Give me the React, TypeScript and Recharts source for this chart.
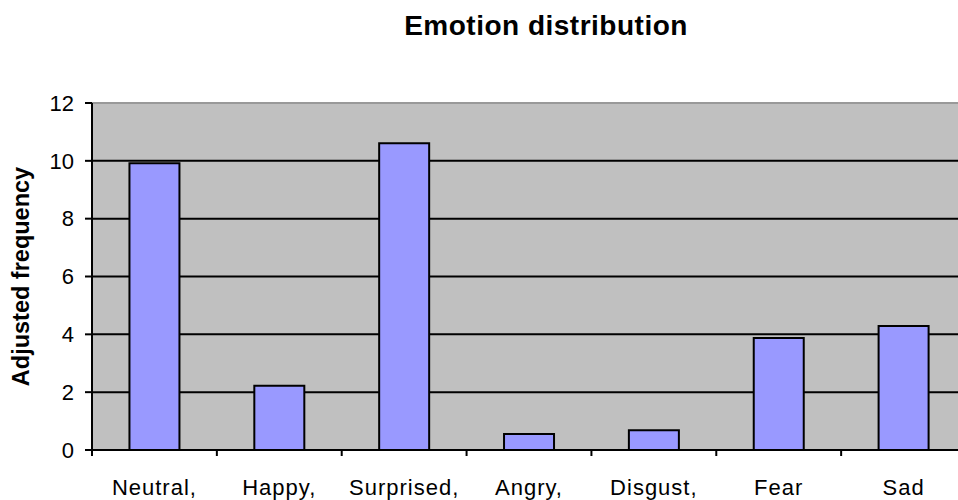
import { Bar, BarChart, CartesianGrid, ReferenceLine, XAxis, YAxis } from "recharts";

const emotions = ["Neutral,", "Happy,", "Surprised,", "Angry,", "Disgust,", "Fear", "Sad"];
const frequency = [9.92, 2.22, 10.61, 0.55, 0.68, 3.87, 4.29];
const yTicks = [0, 2, 4, 6, 8, 10, 12];

const data = emotions.map((name, i) => ({ name, value: frequency[i] }));

const font = '"Liberation Sans", Arial, sans-serif';

function EmotionTick(props: any) {
  const { x, y, payload, index, visibleTicksCount } = props;
  const half = payload?.offset ?? 0;
  const axisY = y - 29;
  return (
    <g>
      <line x1={x - half} y1={axisY} x2={x - half} y2={axisY + 6} stroke="#000" strokeWidth={2} />
      {index === visibleTicksCount - 1 && (
        <line x1={x + half} y1={axisY} x2={x + half} y2={axisY + 6} stroke="#000" strokeWidth={2} />
      )}
      <text x={x} y={y} dy="0.71em" textAnchor="middle" fontFamily={font} fontSize={22} letterSpacing={1} fill="#000">
        {payload.value}
      </text>
    </g>
  );
}

export default function App() {
  return (
    <div style={{ position: "absolute", left: 0, top: 0, width: 958, height: 500, overflow: "hidden", background: "#fff" }}>
      <div
        style={{
          position: "absolute",
          left: 546,
          top: 12,
          transform: "translateX(-50%)",
          fontFamily: font,
          fontWeight: "bold",
          fontSize: 28,
          lineHeight: 1,
          letterSpacing: 0.5,
          whiteSpace: "nowrap",
        }}
      >
        Emotion distribution
      </div>
      <BarChart
        width={980}
        height={500}
        data={data}
        margin={{ top: 103, right: 14, left: 0, bottom: 0 }}
        barCategoryGap="30%"
      >
        <CartesianGrid vertical={false} fill="#c0c0c0" stroke="#000" strokeWidth={2} />
        <ReferenceLine y={12} stroke="#999" strokeWidth={2} />
        <XAxis
          dataKey="name"
          height={50}
          axisLine={{ stroke: "#000", strokeWidth: 2 }}
          tickLine={false}
          tickSize={0}
          tickMargin={29}
          tick={<EmotionTick />}
          interval={0}
        />
        <YAxis
          width={92}
          domain={[0, 12]}
          ticks={yTicks}
          interval={0}
          axisLine={{ stroke: "#000", strokeWidth: 2 }}
          tickLine={{ stroke: "#000", strokeWidth: 2 }}
          tickSize={7}
          tickMargin={11}
          tick={{ fill: "#000", fontSize: 22, fontFamily: font }}
          label={{
            value: "Adjusted frequency",
            angle: -90,
            position: "insideLeft",
            offset: 21,
            style: { fontFamily: font, fontWeight: "bold", fontSize: 23.5, fill: "#000", textAnchor: "middle" },
          }}
        />
        <Bar dataKey="value" fill="#9999ff" stroke="#000" strokeWidth={2} isAnimationActive={false} />
      </BarChart>
    </div>
  );
}
